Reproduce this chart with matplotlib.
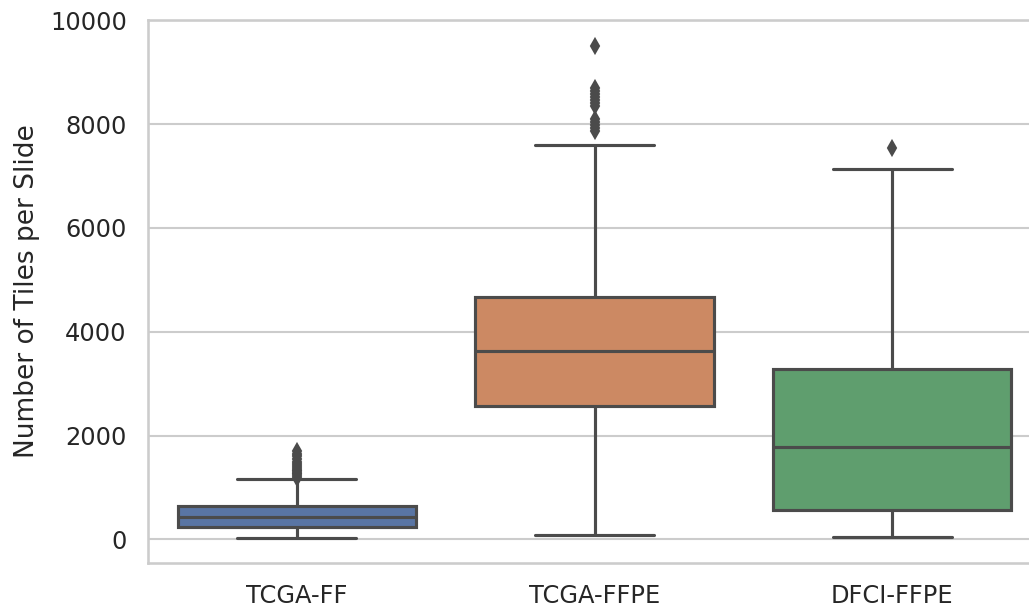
import matplotlib
matplotlib.use("Agg")
import matplotlib.pyplot as plt
import seaborn as sns

categories = ["TCGA-FF", "TCGA-FFPE", "DFCI-FFPE"]
medians = [433, 3635, 1788]
q1s = [240, 2577, 558]
q3s = [644, 4673, 3288]
whis_lo = [25, 87, 48]
whis_hi = [1163, 7596, 7135]
fliers_ff = [1190, 1220, 1250, 1280, 1310, 1340, 1380, 1420, 1460, 1500, 1550, 1600, 1650, 1700]
fliers_ffpe = [7870, 7920, 7980, 8040, 8100, 8340, 8400, 8460, 8520, 8580, 8640, 8700, 9500]
fliers_dfci = [7540]
box_colors = ["#5975a4", "#cc8963", "#5f9e6e"]
line_gray = "#4b4b4b"

sns.set_theme(style="whitegrid", rc={"xtick.labelsize": 11.6, "ytick.labelsize": 11.6,
                                     "axes.labelsize": 12.7, "xtick.major.pad": 4.2,
                                     "ytick.major.pad": 4.2, "axes.labelpad": 4.6})

fig = plt.figure(figsize=(1029 / 150, 613 / 150), dpi=150)
ax = fig.add_axes([148 / 1029, 1 - 563 / 613, (1041 - 148) / 1029, (563 - 20) / 613])

fliers = [fliers_ff, fliers_ffpe, fliers_dfci]
stats = []
for i, name in enumerate(categories):
    stats.append(dict(label=name, med=medians[i], q1=q1s[i], q3=q3s[i],
                      whislo=whis_lo[i], whishi=whis_hi[i], fliers=fliers[i]))

bp = ax.bxp(stats, positions=range(len(categories)), widths=0.8, capwidths=0.4,
            patch_artist=True, showfliers=True,
            boxprops=dict(edgecolor=line_gray, linewidth=1.5),
            whiskerprops=dict(color=line_gray, linewidth=1.5),
            capprops=dict(color=line_gray, linewidth=1.5),
            medianprops=dict(color=line_gray, linewidth=1.5),
            flierprops=dict(marker="d", markersize=5, markerfacecolor=line_gray,
                            markeredgecolor=line_gray, linestyle="none"))
for patch, c in zip(bp["boxes"], box_colors):
    patch.set_facecolor(c)

ax.set_xlim(-0.5, 2.5)
ax.set_ylim(-455, 10005)
ax.set_xticks(range(len(categories)))
ax.set_xticklabels(categories)
ax.xaxis.grid(False)
ax.yaxis.grid(True)
ax.set_ylabel("Number of Tiles per Slide")

fig.savefig("out.png", dpi=150)
